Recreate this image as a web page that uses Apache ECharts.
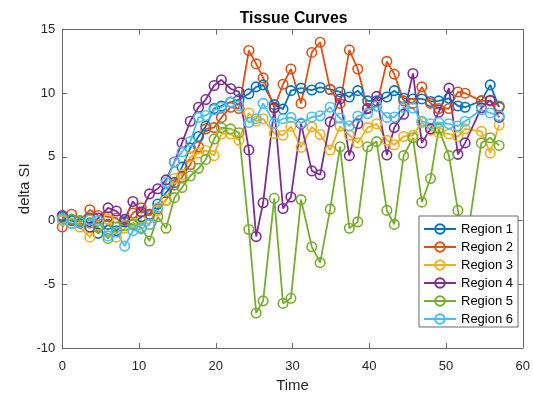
<!DOCTYPE html>
<html><head><meta charset="utf-8">
<script src="https://cdn.jsdelivr.net/npm/echarts@6/dist/echarts.min.js"></script>
<style>html,body{margin:0;padding:0;background:#fff}#c{width:533px;height:398px}</style>
</head><body><div id="c"></div>
<script>
const TIME = [0, 1.22, 2.29, 3.59, 4.66, 5.96, 7.05, 8.12, 9.2, 10.28,
  11.36, 12.44, 13.52, 14.6, 15.6, 16.67, 17.75, 18.7, 19.78, 20.73,
  21.94, 23.02, 24.31, 25.26, 26.17, 27.62, 28.76, 29.79, 31.11, 32.51,
  33.6, 34.9, 36.19, 37.4, 38.5, 39.79, 40.96, 42.29, 43.26, 44.48,
  45.69, 46.85, 47.98, 49.05, 50.38, 51.55, 52.49, 54.6, 55.76, 56.92];
const REGION_1 = [0.3, 0.0, -0.2, 0.2, -1.0, -0.3, -0.8, -0.1, -0.3, 0.3,
  0.5, 1.3, 2.2, 3.0, 4.2, 5.7, 6.6, 7.4, 8.8, 9.0,
  9.3, 9.5, 9.95, 10.5, 10.65, 9.1, 8.75, 10.2, 10.4, 10.25,
  10.45, 10.3, 10.1, 9.7, 10.2, 9.4, 9.4, 9.7, 10.2, 9.6,
  9.55, 9.55, 9.35, 9.4, 9.6, 9.0, 8.9, 9.4, 10.65, 8.9];
const REGION_2 = [-0.5, 0.5, 0.0, 0.85, 0.4, 0.3, 0.2, -0.4, 0.6, 1.0,
  0.4, 0.9, 1.6, 2.8, 3.4, 4.4, 5.8, 7.2, 7.3, 8.1,
  8.9, 8.8, 13.35, 12.3, 11.2, 8.85, 10.7, 11.9, 9.2, 13.2,
  14.0, 10.3, 9.2, 13.4, 11.9, 8.8, 9.0, 12.5, 11.5, 9.4,
  9.2, 10.5, 9.2, 8.8, 8.8, 10.1, 10.0, 9.4, 9.4, 9.0];
const REGION_3 = [0.0, -0.2, -0.5, -1.3, -0.4, 0.1, -1.3, -0.6, -0.2, 0.0,
  -0.3, 0.8, 1.6, 3.3, 3.6, 5.0, 5.3, 5.5, 5.1, 6.8,
  6.8, 6.3, 8.45, 7.8, 8.0, 6.84, 6.7, 7.4, 5.75, 7.36,
  6.76, 5.54, 7.4, 6.7, 6.1, 7.3, 7.6, 6.3, 5.95, 6.6,
  6.7, 7.7, 7.1, 6.9, 6.8, 6.6, 7.2, 7.0, 5.3, 7.5];
const REGION_4 = [0.4, 0.1, -0.1, -0.5, 0.2, 1.0, 0.75, 0.1, 1.5, 0.7,
  2.1, 2.5, 3.2, 4.6, 6.1, 7.8, 8.9, 9.5, 10.6, 11.05,
  10.35, 10.1, 5.55, -1.25, 1.4, 8.85, 0.95, 1.85, 7.6, 3.9,
  3.6, 7.75, 9.55, 5.1, 7.6, 8.8, 9.75, 5.15, 7.3, 8.35,
  11.55, 6.1, 7.2, 8.5, 10.4, 5.2, 6.1, 8.85, 9.45, 8.1];
const REGION_5 = [0.2, 0.1, 0.0, -0.2, -0.55, -1.4, -0.5, -0.4, -0.3, -0.55,
  -1.6, 0.3, -0.6, 1.8, 2.6, 3.5, 4.1, 4.8, 6.4, 7.3,
  7.2, 6.9, -0.7, -7.25, -6.3, 1.75, -6.5, -6.1, 1.65, -2.05,
  -3.3, 0.9, 5.8, -0.6, -0.1, 5.8, 6.2, 0.8, -0.3, 5.1,
  6.5, 1.45, 3.3, 7.2, 5.1, 0.8, -2.5, 6.1, 6.5, 5.9];
const REGION_6 = [0.1, -0.25, -0.15, 0.05, 0.0, -1.2, -0.9, -2.0, -0.8, -0.65,
  -0.3, 1.0, 3.0, 4.6, 5.4, 6.2, 8.1, 8.25, 8.7, 8.9,
  9.3, 9.0, 7.7, 8.0, 9.2, 7.65, 8.0, 8.1, 7.65, 8.13,
  8.23, 8.9, 8.03, 7.44, 8.2, 8.4, 9.0, 8.1, 8.13, 8.87,
  8.84, 7.8, 7.6, 7.7, 7.6, 7.42, 7.8, 8.7, 8.45, 8.23];
const SERIES_NAMES = ['Region 1', 'Region 2', 'Region 3', 'Region 4', 'Region 5', 'Region 6'];
const SERIES_VALUES = [REGION_1, REGION_2, REGION_3, REGION_4, REGION_5, REGION_6];
const X_MIN = 0, X_MAX = 60, X_STEP = 10;
const Y_MIN = -10, Y_MAX = 15, Y_STEP = 5;
const TITLE = 'Tissue Curves';
const X_NAME = 'Time';
const Y_NAME = 'delta SI';

const COLORS = ['#0072BD', '#D95319', '#EDB120', '#7E2F8E', '#77AC30', '#4DBEEE'];
const AX = '#262626';
const BOX = '#6a6a6a';
const FONT = '"Liberation Sans", Arial, Helvetica, sans-serif';

const chart = echarts.init(document.getElementById('c'), null, {renderer: 'canvas'});

function axisBase(extra) {
  return Object.assign({
    type: 'value',
    axisLine: {show: true, onZero: false, lineStyle: {color: BOX, width: 1}},
    axisTick: {show: true, inside: true, length: 5, lineStyle: {color: BOX, width: 1}},
    splitLine: {show: false},
    axisLabel: {show: false}
  }, extra);
}

const option = {
  backgroundColor: '#fff',
  animation: false,
  title: {
    text: TITLE, left: 293.6, top: 11, textAlign: 'center', padding: 0,
    textStyle: {fontFamily: FONT, fontSize: 15.8, fontWeight: 'bold', color: '#000'}
  },
  grid: {left: 62.3, right: 8, top: 29.5, bottom: 44.5, containLabel: false},
  legend: {
    orient: 'vertical', left: 419, top: 216,
    backgroundColor: '#fff', borderColor: BOX, borderWidth: 1, borderRadius: 0,
    padding: [6, 5, 1, 4],
    itemWidth: 32, itemHeight: 12, itemGap: 4,
    textStyle: {fontFamily: FONT, fontSize: 13, color: '#000', lineHeight: 14},
    data: SERIES_NAMES
  },
  xAxis: [
    axisBase({
      min: X_MIN, max: X_MAX, interval: X_STEP, position: 'bottom',
      axisLabel: {show: true, color: AX, fontSize: 13, fontFamily: FONT, margin: 12},
      name: X_NAME, nameLocation: 'middle', nameGap: 30, nameMoveOverlap: false,
      nameTextStyle: {fontFamily: FONT, fontSize: 15, color: AX}
    }),
    axisBase({min: X_MIN, max: X_MAX, interval: X_STEP, position: 'top'})
  ],
  yAxis: [
    axisBase({
      min: Y_MIN, max: Y_MAX, interval: Y_STEP, position: 'left',
      axisLabel: {show: true, color: AX, fontSize: 13, fontFamily: FONT, margin: 7},
      name: Y_NAME, nameLocation: 'middle', nameGap: 30, nameRotate: 90, nameMoveOverlap: false,
      nameTextStyle: {fontFamily: FONT, fontSize: 15, color: AX}
    }),
    axisBase({min: Y_MIN, max: Y_MAX, interval: Y_STEP, position: 'right'})
  ],
  series: SERIES_NAMES.map((name, i) => ({
    name: name,
    type: 'line',
    xAxisIndex: 0, yAxisIndex: 0,
    data: TIME.map((t, j) => [t, SERIES_VALUES[i][j]]),
    symbol: 'circle',
    symbolSize: 9.5,
    showAllSymbol: true,
    color: COLORS[i],
    lineStyle: {color: COLORS[i], width: 1.8},
    itemStyle: {color: 'rgba(255,255,255,0)', borderColor: COLORS[i], borderWidth: 1.6},
    emphasis: {disabled: true}
  }))
};
chart.setOption(option);
</script>
</body></html>
